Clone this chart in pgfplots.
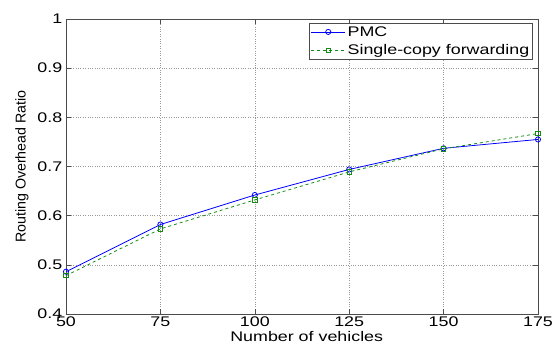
\documentclass[border=0pt]{standalone}
\usepackage{pgfplots}
\pgfplotsset{compat=1.18}
\usepackage{fontspec}
\setmainfont[FakeStretch=1.28]{Liberation Sans}
\newfontfamily\ylabfont{Liberation Sans}
\definecolor{mblue}{RGB}{0,0,255}
\definecolor{mgreen}{RGB}{20,140,20}
\begin{document}
\begin{tikzpicture}
\begin{axis}[
  scale only axis,
  width=472bp, height=295bp,
  xmin=50, xmax=175, ymin=0.4, ymax=1,
  xtick={50,75,100,125,150,175},
  ytick={0.4,0.5,0.6,0.7,0.8,0.9,1},
  yticklabels={0.4,0.5,0.6,0.7,0.8,0.9,1},
  /pgf/number format/assume math mode=true,
  tick label style={font=\fontsize{14}{15}\selectfont},
  xlabel={Number of vehicles},
  ylabel={Routing Overhead Ratio},
  every axis x label/.style={at={(axis description cs:0.51,-0.092)}, anchor=base, inner sep=0.5pt, font=\fontsize{14}{15}\selectfont},
  every axis y label/.style={at={(axis description cs:-0.0932,0.5)}, rotate=90, anchor=center, font=\ylabfont\fontsize{14.3}{15}\selectfont},
  xticklabel style={anchor=base, inner sep=0.5pt, yshift=-13bp},
  yticklabel style={inner sep=0.5pt, xshift=-3bp},
  tick align=inside,
  major tick length=5bp,
  tick style={black!70, line width=0.5pt},
  axis line style={black!70, line width=0.6pt},
  grid=major,
  grid style={dotted, black!40, line width=0.5pt},
  legend style={at={(0.9895,0.988)}, anchor=north east, font=\fontsize{14}{15}\selectfont, draw=black!70, line width=0.6pt, inner sep=1.5pt, row sep=3pt},
  legend cell align=left,
  legend image code/.code={\draw[mark repeat=2,mark phase=2] plot coordinates {(0cm,0cm) (0.6cm,0cm) (1.2cm,0cm)};},
]
\addplot[mblue, line width=0.8pt, mark=o, mark size=2.6pt, mark options={solid}] coordinates {
(50,0.486) (75,0.582) (100,0.642) (125,0.694) (150,0.737) (175,0.755)};
\addlegendentry{PMC}
\addplot[mgreen, line width=0.8pt, dashed, mark=square, mark size=2.2pt, mark options={solid}] coordinates {
(50,0.478) (75,0.573) (100,0.632) (125,0.689) (150,0.736) (175,0.767)};
\addlegendentry{Single-copy forwarding}
\end{axis}
\pgfresetboundingbox
\path[use as bounding box] ([xshift=-66bp,yshift=-31bp]current axis.south west) rectangle ([xshift=20bp,yshift=19bp]current axis.north east);
\end{tikzpicture}
\end{document}
